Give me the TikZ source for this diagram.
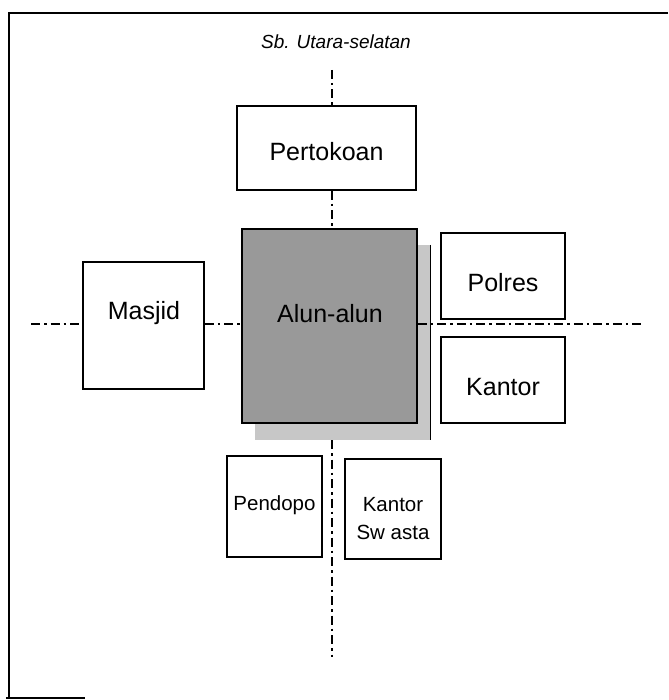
\documentclass[tikz,border=0pt]{standalone}
\usepackage{fontspec}
\setmainfont{Liberation Sans}
\tikzset{
  blok/.style={draw, line width=1.5pt, inner sep=0pt},
  teks/.style={inner sep=0pt, font=\fontsize{25}{28}\selectfont},
  teksk/.style={inner sep=0pt, align=center, font=\fontsize{20.5}{28}\selectfont},
  sumbu/.style={line width=2.3pt, dash pattern=on 9pt off 4pt on 2.5pt off 4pt},
}
\begin{document}
\begin{tikzpicture}[x=1pt, y=-1pt]
\useasboundingbox (0,0) rectangle (668,700);
% bingkai
\draw[line width=1.6pt] (668,13) -- (9,13) -- (9,698);
\draw[line width=1.6pt] (6,698) -- (85,698);
\node[font=\fontsize{19}{21}\selectfont\itshape] (judul) at (336,42) {Sb. Utara-selatan};
% blok
\node[blok, minimum width=179pt, minimum height=84pt] (pertokoan) at (326.5,148) {};
\node[fill=black!22, minimum width=175pt, minimum height=195pt, inner sep=0pt] (bayang) at (342.5,342.5) {};
\draw[line width=1pt] (bayang.north east) -- (bayang.south east);
\node[blok, fill=black!40, minimum width=175pt, minimum height=194pt] (alun) at (329.5,326) {};
\node[blok, minimum width=121pt, minimum height=127pt] (masjid) at (143.5,325.5) {};
\node[blok, minimum width=124pt, minimum height=86pt] (polres) at (503,276) {};
\node[blok, minimum width=124pt, minimum height=86pt] (kantor) at (503,380) {};
\node[blok, minimum width=95pt, minimum height=101pt] (pendopo) at (274.5,506.5) {};
\node[blok, minimum width=96pt, minimum height=100pt] (swasta) at (393,509) {};
% teks
\node[teks] (pertokoanlbl) at (326.5,152) {Pertokoan};
\node[teks] (alunlbl) at (330,314) {Alun-alun};
\node[teks] (masjidlbl) at (144,313) {Masjid};
\node[teks] (polreslbl) at (503,283) {Polres};
\node[teks] (kantorlbl) at (503,387) {Kantor};
\node[teksk] (pendopolbl) at (274.5,505) {Pendopo};
\node[teksk] (swastalbl) at (393,519) {Kantor\\Sw asta};
% sumbu
\coordinate (atas) at (332,70);
\coordinate (bawah) at (332,657);
\coordinate (kiri) at (31,324);
\coordinate (kanan) at (642,324);
\draw[sumbu] (atas) -- (atas |- pertokoan.north);
\draw[sumbu] (pertokoan.south -| atas) -- (alun.north -| atas);
\draw[sumbu] (bayang.south -| atas) -- (bawah);
\draw[sumbu] (kiri) -- (kiri -| masjid.west);
\draw[sumbu] (masjid.east |- kiri) -- (alun.west |- kiri);
\draw[sumbu] (alun.east |- kiri) -- (kanan);
\end{tikzpicture}
\end{document}
